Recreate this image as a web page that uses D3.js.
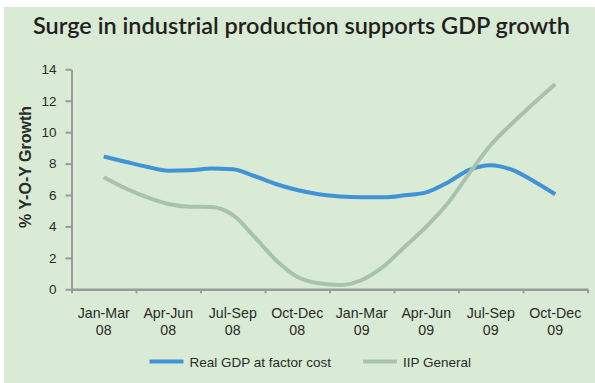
<!DOCTYPE html>
<html>
<head>
<meta charset="utf-8">
<script src="https://cdn.jsdelivr.net/npm/d3@7"></script>
<style>
  html, body { margin: 0; padding: 0; background: #ffffff; }
  svg { display: block; }
</style>
</head>
<body>
<svg id="chart" width="595" height="383"></svg>
<script>
// Quarterly categories shown on the x axis
const quarters = ["Jan-Mar|08", "Apr-Jun|08", "Jul-Sep|08", "Oct-Dec|08",
                  "Jan-Mar|09", "Apr-Jun|09", "Jul-Sep|09", "Oct-Dec|09"];

// Monthly readings, from the middle of the first quarter to the middle of the last
const months = d3.range(0, 22);
const realGDP = [8.45, 8.12, 7.8, 7.55, 7.57, 7.68, 7.64, 7.21, 6.7, 6.32, 6.05,
                 5.9, 5.85, 5.85, 5.98, 6.17, 6.8, 7.6, 7.9, 7.6, 6.88, 6.05];
const iipGeneral = [7.13, 6.43, 5.86, 5.43, 5.26, 5.24, 4.73, 3.35, 1.87, 0.8, 0.38,
                    0.27, 0.59, 1.44, 2.71, 3.98, 5.47, 7.38, 9.18, 10.57, 11.84, 13.07];

const yTicks = [0, 2, 4, 6, 8, 10, 12, 14];
const seriesNames = ["Real GDP at factor cost", "IIP General"];
const seriesColors = ["#3f93d6", "#a7c3ae"];

const svg = d3.select("#chart");
const W = 595, H = 383;
const plot = { left: 71.5, right: 587.5, top: 69.3, bottom: 289.3 };

// panel background
svg.append("rect").attr("x", 4).attr("y", 7).attr("width", W - 4).attr("height", H - 7)
  .attr("fill", "#d9ebd5");

// title
const title = svg.append("text")
  .attr("x", 33).attr("y", 34)
  .attr("font-family", "Lato, 'Noto Sans', sans-serif")
  .attr("font-weight", 600)
  .attr("font-size", 24)
  .attr("fill", "#231f20")
  .text("Surge in industrial production supports GDP growth");
// fit title width to its box
const tw = title.node().getComputedTextLength();
title.attr("font-size", 24 * 537 / tw);

// scales
const xBand = d3.scaleBand().domain(quarters).range([plot.left, plot.right]);
const xEdge = d3.scaleLinear().domain([0, quarters.length]).range([plot.left, plot.right]);
const xMonth = d3.scaleLinear().domain([0, 21])
  .range([xBand(quarters[0]) + xBand.bandwidth() / 2,
          xBand(quarters[quarters.length - 1]) + xBand.bandwidth() / 2]);
const y = d3.scaleLinear().domain([0, 14]).range([plot.bottom, plot.top]);

const axisColor = "#9a9a9c";
const textColor = "#2a2a2a";

// y axis
const yAxis = svg.append("g").attr("transform", `translate(${plot.left},0)`)
  .call(d3.axisLeft(y).tickValues(yTicks).tickSize(6).tickSizeOuter(0).tickPadding(9));
yAxis.select(".domain").attr("stroke", axisColor).attr("stroke-width", 2);
yAxis.selectAll(".tick line").attr("stroke", axisColor).attr("stroke-width", 2);
yAxis.selectAll(".tick text").attr("font-family", "Liberation Sans, Arial, sans-serif")
  .attr("font-size", 13.5).attr("fill", textColor);

// x axis (ticks at quarter boundaries)
const xAxis = svg.append("g").attr("transform", `translate(0,${plot.bottom})`)
  .call(d3.axisBottom(xEdge).tickValues(d3.range(0, quarters.length + 1))
    .tickFormat("").tickSize(4).tickSizeOuter(0));
xAxis.select(".domain").attr("stroke", axisColor).attr("stroke-width", 2.5);
xAxis.selectAll(".tick line").attr("stroke", axisColor).attr("stroke-width", 2);

// quarter labels, two lines each
const lbl = svg.append("g")
  .attr("font-family", "Liberation Sans, Arial, sans-serif")
  .attr("font-size", 14.2).attr("fill", textColor).attr("text-anchor", "middle");
quarters.forEach(q => {
  const [a, b] = q.split("|");
  const cx = xBand(q) + xBand.bandwidth() / 2;
  const t = lbl.append("text").attr("x", cx).attr("y", 318);
  t.append("tspan").attr("x", cx).attr("dy", 0).text(a);
  t.append("tspan").attr("x", cx).attr("dy", 17).text(b);
});

// y axis title
svg.append("text")
  .attr("transform", "translate(30.5,167) rotate(-90)")
  .attr("text-anchor", "middle")
  .attr("font-family", "Liberation Sans, Arial, sans-serif")
  .attr("font-weight", "bold").attr("font-size", 16).attr("fill", textColor)
  .text("% Y-O-Y Growth");

// series lines (IIP drawn last so it crosses over GDP)
const line = d3.line().x((d, i) => xMonth(months[i])).y(d => y(d)).curve(d3.curveMonotoneX);
[realGDP, iipGeneral].forEach((s, k) => {
  svg.append("path").datum(s)
    .attr("fill", "none").attr("stroke", seriesColors[k])
    .attr("stroke-width", 4).attr("stroke-linejoin", "round")
    .attr("d", line);
});

// legend
const legend = svg.append("g")
  .attr("font-family", "Liberation Sans, Arial, sans-serif")
  .attr("font-size", 13.5).attr("fill", textColor);
const legendX = [149.5, 363];
seriesNames.forEach((n, k) => {
  legend.append("line").attr("x1", legendX[k]).attr("x2", legendX[k] + 34)
    .attr("y1", 361.5).attr("y2", 361.5)
    .attr("stroke", seriesColors[k]).attr("stroke-width", 4);
  legend.append("text").attr("x", legendX[k] + 40).attr("y", 366.5).text(n);
});
</script>
</body>
</html>
